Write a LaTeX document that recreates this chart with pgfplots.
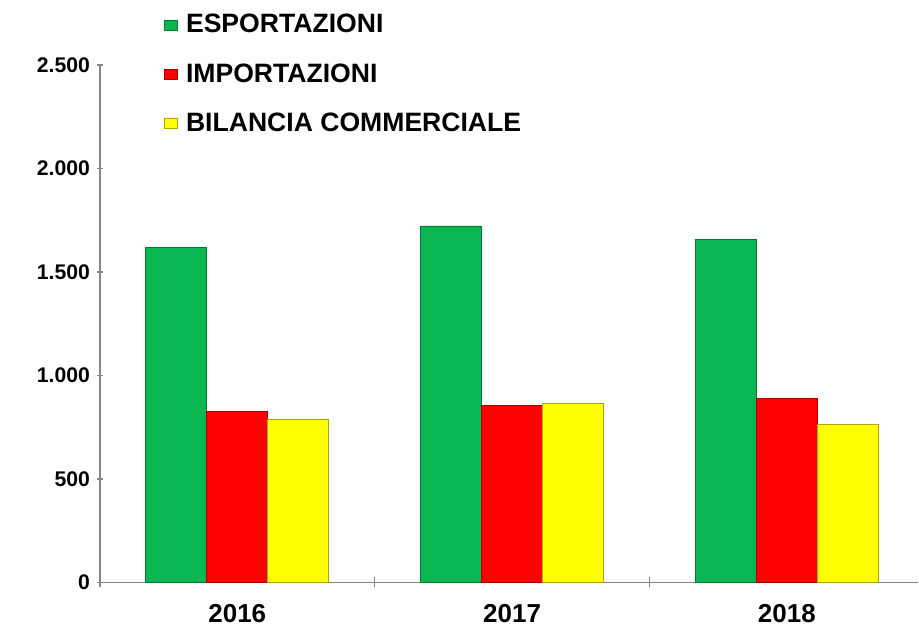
\documentclass[border=0pt]{standalone}
\usepackage{pgfplots}
\pgfplotsset{compat=1.18}
\usepackage{fontspec}
\setmainfont{Liberation Sans}
\usetikzlibrary{calc}
\definecolor{esp}{RGB}{10,182,82}
\definecolor{espD}{RGB}{6,120,55}
\definecolor{imp}{RGB}{255,0,0}
\definecolor{impD}{RGB}{170,0,0}
\definecolor{bil}{RGB}{255,255,0}
\definecolor{bilD}{RGB}{170,170,0}
\definecolor{axgray}{RGB}{134,134,134}

\begin{document}
\begin{tikzpicture}
\begin{axis}[
    name=ax,
    scale only axis,
    width=409.5pt,
    height=259pt,
    ybar=0pt,
    bar width=0.222,
    xmin=-0.5, xmax=2.478,
    ymin=0, ymax=2500,
    ytick={0,500,1000,1500,2000,2500},
    xtick={0,1,2},
    xticklabels={2016,2017,2018},
    minor xtick={-0.5,0.5,1.5},
    major x tick style={draw=none},
    minor tick length=5pt,
    major tick length=3pt,
    tick align=outside,
    axis x line=bottom,
    axis y line=left,
    axis line style={-, draw=axgray, line width=0.8pt},
    tick style={draw=axgray, line width=0.8pt},
    y tick label style={font=\bfseries\fontsize{10.6}{12}\selectfont, /pgf/number format/assume math mode=true, /pgf/number format/1000 sep={.}},
    x tick label style={font=\bfseries\fontsize{13}{15}\selectfont, yshift=-6pt},
    legend style={at={(0,1)}, anchor=north west, xshift=32pt, yshift=27.5pt,
        draw=none, fill=none, font=\bfseries\fontsize{13.3}{15}\selectfont,
        row sep=9.8pt, inner sep=0pt,
        /tikz/every odd column/.append style={column sep=2pt}},
    legend cell align=left,
    legend image code/.code={\filldraw[#1, line width=0.4pt] (0pt,-2.6pt) rectangle (6.5pt,2.6pt);},
    clip=false,
]
\addplot[fill=esp, draw=espD] coordinates {(0,1618) (1,1722) (2,1655)};
\addplot[fill=imp, draw=impD] coordinates {(0,828) (1,857) (2,890)};
\addplot[fill=bil, draw=bilD] coordinates {(0,790) (1,865) (2,765)};
\legend{ESPORTAZIONI, IMPORTAZIONI, BILANCIA COMMERCIALE}
\end{axis}
\path[use as bounding box] ($(ax.south west)+(-50pt,-21.5pt)$) rectangle ($(ax.north east)+(0,32.5pt)$);
\end{tikzpicture}
\end{document}
